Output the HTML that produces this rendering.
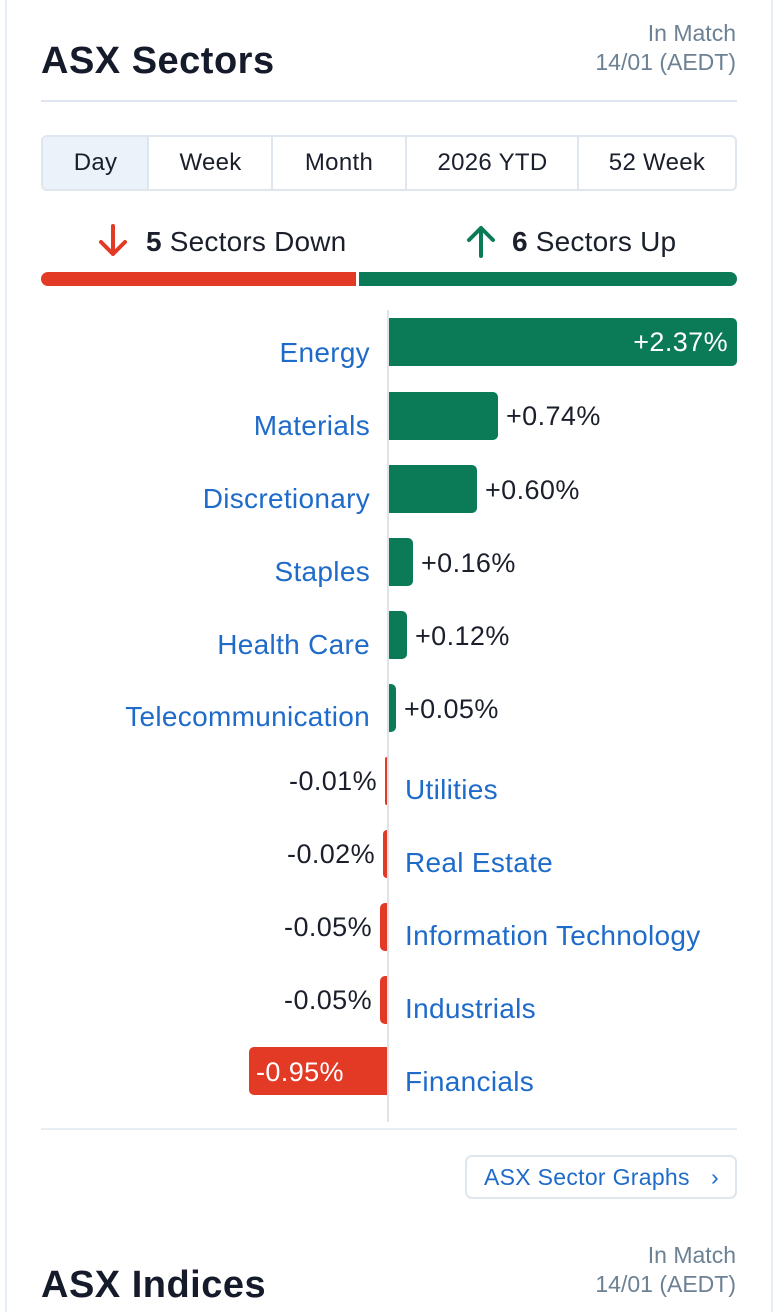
<!DOCTYPE html><html><head><style>
*{margin:0;padding:0;box-sizing:border-box}
body{width:778px;height:1312px;background:#fff;font-family:"Liberation Sans",sans-serif;position:relative;overflow:hidden}
.a{position:absolute;white-space:nowrap}
.lbl{color:#1f6bc9;font-size:28px;line-height:30px;letter-spacing:0.3px}
.val{color:#1a1f2b;font-size:27px;line-height:30px;letter-spacing:0.4px}
.g{background:#0b7a57;border-radius:0 5px 5px 0}
.r{background:#e23a25;border-radius:5px 0 0 5px}
.tab{position:absolute;top:137px;height:52px;line-height:52px;text-align:center;font-size:24px;letter-spacing:0.3px;color:#1a1f2b;border-left:2px solid #dfe6ee}
</style></head><body>
<div class="a" style="left:5px;top:0;width:2px;height:1312px;background:#e6edf4"></div>
<div class="a" style="left:771px;top:0;width:2px;height:1312px;background:#e6edf4"></div>
<div class="a" style="left:41px;top:40px;font-size:38px;letter-spacing:0.5px;font-weight:bold;color:#151b2a">ASX Sectors</div>
<div class="a" style="right:42px;top:19px;text-align:right;font-size:23px;line-height:29px;color:#6d8194">In Match<br>14/01 (AEDT)</div>
<div class="a" style="left:41px;top:100px;width:696px;height:2px;background:#dde6ee"></div>
<div class="a" style="left:41px;top:135px;width:696px;height:56px;border:2px solid #dfe6ee;border-radius:6px"></div>
<div class="a" style="left:43px;top:137px;width:105px;height:52px;background:#ebf2fa;border-radius:4px 0 0 4px"></div>
<div class="tab" style="left:43px;width:105px;border-left:none">Day</div>
<div class="tab" style="left:147px;width:125px">Week</div>
<div class="tab" style="left:271px;width:134px">Month</div>
<div class="tab" style="left:405px;width:173px">2026 YTD</div>
<div class="tab" style="left:577px;width:158px">52 Week</div>
<svg class="a" style="left:96px;top:224px" width="34" height="34" viewBox="0 0 34 34"><path d="M17 2V30M5 18L17 30L29 18" stroke="#e23a25" stroke-width="4" fill="none" stroke-linecap="round" stroke-linejoin="round"/></svg>
<div class="a" style="left:146px;top:226px;font-size:28px;letter-spacing:0.2px;color:#1a1f2b;line-height:32px"><b>5</b> Sectors Down</div>
<svg class="a" style="left:464px;top:224px" width="34" height="34" viewBox="0 0 34 34"><path d="M17 32V4M5 16L17 4L29 16" stroke="#0b7a57" stroke-width="4" fill="none" stroke-linecap="round" stroke-linejoin="round"/></svg>
<div class="a" style="left:512px;top:226px;font-size:28px;letter-spacing:0.2px;color:#1a1f2b;line-height:32px"><b>6</b> Sectors Up</div>
<div class="a" style="left:41px;top:272px;width:315px;height:14px;background:#e23a25;border-radius:7px 0 0 7px"></div>
<div class="a" style="left:359px;top:272px;width:378px;height:14px;background:#0b7a57;border-radius:0 7px 7px 0"></div>
<div class="a" style="left:387px;top:310px;width:2px;height:812px;background:#dfe3e8"></div>

<div class="a g" style="left:389px;top:318px;width:348px;height:48px"></div>
<div class="a val" style="right:50px;top:327px;color:#fff">+2.37%</div>
<div class="a lbl" style="right:408px;top:338px">Energy</div>

<div class="a g" style="left:389px;top:392px;width:109px;height:48px"></div>
<div class="a val" style="left:506px;top:401px">+0.74%</div>
<div class="a lbl" style="right:408px;top:411px">Materials</div>

<div class="a g" style="left:389px;top:465px;width:88px;height:48px"></div>
<div class="a val" style="left:485px;top:475px">+0.60%</div>
<div class="a lbl" style="right:408px;top:484px">Discretionary</div>

<div class="a g" style="left:389px;top:538px;width:24px;height:48px"></div>
<div class="a val" style="left:421px;top:548px">+0.16%</div>
<div class="a lbl" style="right:408px;top:557px">Staples</div>

<div class="a g" style="left:389px;top:611px;width:18px;height:48px"></div>
<div class="a val" style="left:415px;top:621px">+0.12%</div>
<div class="a lbl" style="right:408px;top:630px">Health Care</div>

<div class="a g" style="left:389px;top:684px;width:7px;height:48px"></div>
<div class="a val" style="left:404px;top:694px">+0.05%</div>
<div class="a lbl" style="right:408px;top:702px">Telecommunication</div>

<div class="a r" style="left:385px;top:757px;width:2px;height:48px"></div>
<div class="a val" style="right:401px;top:766px">-0.01%</div>
<div class="a lbl" style="left:405px;top:775px">Utilities</div>

<div class="a r" style="left:383px;top:830px;width:4px;height:48px"></div>
<div class="a val" style="right:403px;top:839px">-0.02%</div>
<div class="a lbl" style="left:405px;top:848px">Real Estate</div>

<div class="a r" style="left:380px;top:903px;width:7px;height:48px"></div>
<div class="a val" style="right:406px;top:912px">-0.05%</div>
<div class="a lbl" style="left:405px;top:921px">Information Technology</div>

<div class="a r" style="left:380px;top:976px;width:7px;height:48px"></div>
<div class="a val" style="right:406px;top:985px">-0.05%</div>
<div class="a lbl" style="left:405px;top:994px">Industrials</div>

<div class="a r" style="left:249px;top:1047px;width:138px;height:48px"></div>
<div class="a val" style="left:256px;top:1057px;color:#fff">-0.95%</div>
<div class="a lbl" style="left:405px;top:1067px">Financials</div>

<div class="a" style="left:41px;top:1128px;width:696px;height:2px;background:#e6edf3"></div>
<div class="a" style="left:465px;top:1155px;width:272px;height:44px;border:2px solid #dfe6ee;border-radius:7px;color:#1f6bc9;font-size:23px;letter-spacing:0.3px;line-height:40px;padding-left:17px">ASX Sector Graphs <span style="position:absolute;right:16px">&#8250;</span></div>
<div class="a" style="left:41px;top:1264px;font-size:38px;letter-spacing:0.5px;font-weight:bold;color:#151b2a">ASX Indices</div>
<div class="a" style="right:42px;top:1241px;text-align:right;font-size:23px;line-height:29px;color:#6d8194">In Match<br>14/01 (AEDT)</div>
</body></html>
